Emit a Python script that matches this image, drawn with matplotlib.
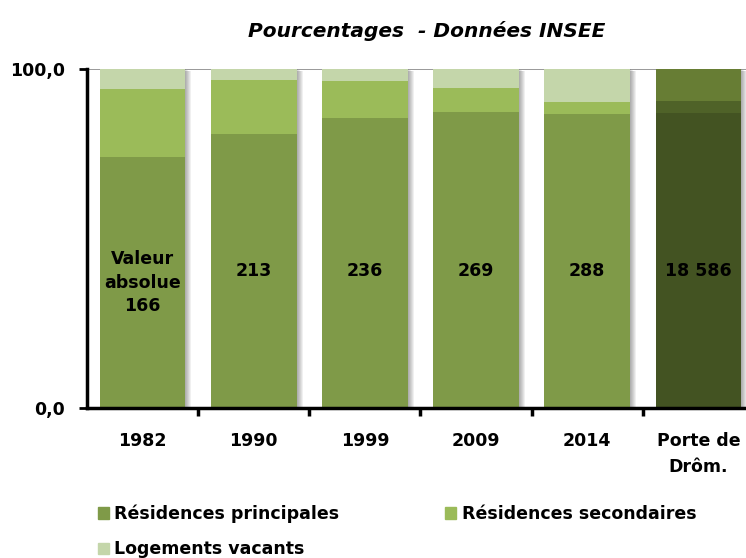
import matplotlib
matplotlib.use("Agg")
from matplotlib import pyplot as plt
from matplotlib import transforms
from matplotlib.patches import Patch
import numpy as np

categories = ["1982", "1990", "1999", "2009", "2014", "Porte de\nDrôm."]
principales = [74.0, 80.8, 85.5, 87.4, 86.6, 86.9]
secondaires = [20.0, 15.9, 11.0, 6.9, 3.7, 3.8]
vacants = [6.0, 3.3, 3.5, 5.7, 9.7, 9.3]
valeurs = ["Valeur\nabsolue\n166", "213", "236", "269", "288", "18 586"]

plt.rcParams["font.family"] = ["DejaVu Sans"]

c_prin = ["#7f9a48"] * 5 + ["#435322"]
c_sec = ["#9bbb59"] * 5 + ["#4f6228"]
c_vac = ["#c4d6aa"] * 5 + ["#677d34"]

fig = plt.figure(figsize=(7.46, 5.58), dpi=100)
ax = fig.add_axes([87 / 746, 1 - 408 / 558, 667 / 746, 339 / 558])

x = np.arange(len(categories))
w = 0.77
totals = np.array(principales) + np.array(secondaires) + np.array(vacants)

# soft drop shadow on the right of each column
for i in range(1, 7):
    off = transforms.offset_copy(ax.transData, fig=fig, x=i, y=-0.4 * i, units="dots")
    ax.bar(x, totals, w, color="black", alpha=0.06, transform=off, zorder=1)

ax.bar(x, principales, w, color=c_prin, zorder=2)
ax.bar(x, secondaires, w, bottom=principales, color=c_sec, zorder=2)
ax.bar(x, vacants, w, bottom=np.array(principales) + np.array(secondaires),
       color=c_vac, zorder=2)

for i, txt in enumerate(valeurs):
    yy = 37 if i == 0 else 40.5
    ax.text(x[i], yy, txt, ha="center", va="center", fontsize=12.5,
            fontweight="bold", linespacing=1.4, zorder=3)

ax.set_xlim(-0.5, len(categories) - 0.5)
ax.set_ylim(0, 100)
ax.set_yticks([0, 100])
ax.set_yticklabels(["0,0", "100,0"], fontsize=12.5, fontweight="bold")
ax.set_xticks(x)
ax.set_xticklabels(categories, fontsize=12.5, fontweight="bold", linespacing=1.6)
ax.tick_params(axis="x", length=0, pad=17)
ax.set_xticks(x[:-1] + 0.5, minor=True)
ax.tick_params(axis="x", which="minor", length=6, width=2.5, direction="out")
ax.tick_params(axis="y", length=6, width=2, pad=10)

ax.axhline(100, color="#888888", lw=1.2, zorder=0)
for s in ["top", "right"]:
    ax.spines[s].set_visible(False)
ax.spines["left"].set_linewidth(2.5)
ax.spines["bottom"].set_linewidth(2.5)

fig.text(427 / 746, 1 - 31 / 558, "Pourcentages  - Données INSEE", ha="center",
         va="center", fontsize=14.5, fontweight="bold", fontstyle="italic")

handles = [Patch(color=c_prin[0], label="Résidences principales"),
           Patch(color=c_vac[0], label="Logements vacants"),
           Patch(color=c_sec[0], label="Résidences secondaires")]
fig.legend(handles=handles, loc="upper left", bbox_to_anchor=(82 / 746, 1 - 489 / 558),
           ncol=2, frameon=False, handlelength=0.65, handleheight=0.65,
           handletextpad=0.3, columnspacing=6.1, labelspacing=1.0,
           prop={"size": 12.5, "weight": "bold"})

fig.savefig("out.png", dpi=100)
